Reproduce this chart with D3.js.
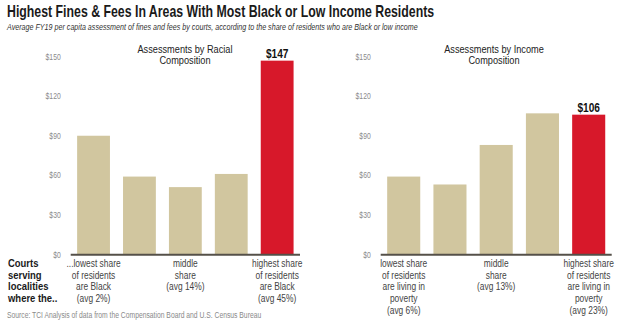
<!DOCTYPE html>
<html>
<head>
<meta charset="utf-8">
<script src="https://cdn.jsdelivr.net/npm/d3@7"></script>
<style>
	body {margin: 0; background: #fff;}
	svg {display: block; font-family: "Liberation Sans", Arial, sans-serif;}
</style>
</head>
<body>
<svg id="chart" width="620" height="325"></svg>
<script>
// Average FY19 per capita assessment, by quintile of localities
const quintiles = ["q1", "q2", "q3", "q4", "q5"];
const racialValues = [90, 59, 51, 61, 147];
const incomeValues = [59, 53, 83, 107, 106];
const yTicks = [0, 30, 60, 90, 120, 150];

const racialLabels = {
	q1: ["...lowest share", "of residents", "are Black", "(avg 2%)"],
	q3: ["middle", "share", "(avg 14%)"],
	q5: ["highest share", "of residents", "are Black", "(avg 45%)"]
};
const incomeLabels = {
	q1: ["lowest share", "of residents", "are living in", "poverty", "(avg 6%)"],
	q3: ["middle", "share", "(avg 13%)"],
	q5: ["highest share", "of residents", "are living in", "poverty", "(avg 23%)"]
};
const rowLabel = ["Courts", "serving", "localities", "where the.."];

const tan = "#d1c69f";
const red = "#d7182a";

// no condensed face is available, so squeeze text horizontally instead
const place = (sel, x, y, sx) => sel
.attr("x", 0)
.attr("y", 0)
.attr("transform", (d, i) => `translate(${typeof x === "function" ? x(d, i) : x}, ${typeof y === "function" ? y(d, i) : y}) scale(${sx}, 1)`);

const svg = d3.select("#chart");

svg.append("text")
	.call(place, 7, 17, 0.79)
	.attr("font-weight", "bold")
	.attr("font-size", 15.6)
	.attr("fill", "#1a1a1a")
	.text("Highest Fines & Fees In Areas With Most Black or Low Income Residents");

svg.append("text")
	.call(place, 7, 30, 0.745)
	.attr("font-style", "italic")
	.attr("font-size", 9.6)
	.attr("fill", "#333")
	.text("Average FY19 per capita assessment of fines and fees by courts, according to the share of residents who are Black or low income");

const y = d3.scaleLinear().domain([0, 150]).range([254.3, 56.7]);

function drawPanel({left, right, title, titleX, values, labels, valueLabel}) {
	const g = svg.append("g");

	const x = d3.scaleBand()
	.domain(quintiles)
	.range([left, right])
	.paddingInner(0.285)
	.paddingOuter(0.14);

	const axis = d3.axisLeft(y)
	.tickValues(yTicks)
	.tickSize(0)
	.tickFormat((d) => `$${d}`);

	const axisG = g.append("g")
	.attr("transform", `translate(${left - 10}, 0)`)
	.call(axis);

	axisG.select(".domain").remove();
	axisG.selectAll("text")
	.attr("font-family", "Liberation Sans, Arial, sans-serif")
	.attr("font-size", 8.5)
	.attr("fill", "#8a8a8a")
	.attr("x", 0)
	.attr("transform", "scale(0.8, 1)");

	g.append("g")
	.selectAll("text")
	.data(title)
	.enter()
	.append("text")
	.call(place, titleX, (d, i) => 52.5 + (i * 11), 0.8)
	.attr("text-anchor", "middle")
	.attr("font-size", 11.5)
	.attr("fill", "#222")
	.text((d) => d);

	g.selectAll(".bar")
	.data(values)
	.enter()
	.append("rect")
	.attr("class", "bar")
	.attr("x", (d, i) => x(quintiles[i]))
	.attr("width", x.bandwidth())
	.attr("y", (d) => y(d))
	.attr("height", (d) => y(0) - y(d))
	.attr("fill", (d, i) => (i === quintiles.length - 1 ? red : tan));

	const last = values[values.length - 1];

	g.append("text")
	.call(place, x(quintiles[4]) + (x.bandwidth() / 2), y(last) - 3, 0.78)
	.attr("text-anchor", "middle")
	.attr("font-size", 13)
	.attr("font-weight", "bold")
	.attr("fill", "#111")
	.text(valueLabel);

	g.append("line")
	.attr("x1", left)
	.attr("x2", right)
	.attr("y1", y(0) + 0.5)
	.attr("y2", y(0) + 0.5)
	.attr("stroke", "#555049")
	.attr("stroke-width", 2);

	Object.keys(labels).forEach((q) => {
		g.append("g")
		.selectAll("text")
		.data(labels[q])
		.enter()
		.append("text")
		.call(place, x(q) + (x.bandwidth() / 2), (d, i) => 267 + (i * 11.7), 0.8)
		.attr("text-anchor", "middle")
		.attr("font-size", 10.5)
		.attr("fill", "#444")
		.text((d) => d);
	});
}

drawPanel({
	left: 70.7,
	right: 300,
	title: ["Assessments by Racial", "Composition"],
	titleX: 185,
	values: racialValues,
	labels: racialLabels,
	valueLabel: `$${racialValues[4]}`
});

drawPanel({
	left: 380.7,
	right: 611.7,
	title: ["Assessments by Income", "Composition"],
	titleX: 494,
	values: incomeValues,
	labels: incomeLabels,
	valueLabel: `$${incomeValues[4]}`
});

svg.append("g")
	.selectAll("text")
	.data(rowLabel)
	.enter()
	.append("text")
	.call(place, 8, (d, i) => 267 + (i * 11.7), 0.86)
	.attr("font-weight", "bold")
	.attr("font-size", 11)
	.attr("fill", "#1a1a1a")
	.text((d) => d);

svg.append("text")
	.call(place, 7, 318, 0.77)
	.attr("font-size", 8.8)
	.attr("fill", "#8a8a8a")
	.text("Source: TCI Analysis of data from the Compensation Board and U.S. Census Bureau");
</script>
</body>
</html>
